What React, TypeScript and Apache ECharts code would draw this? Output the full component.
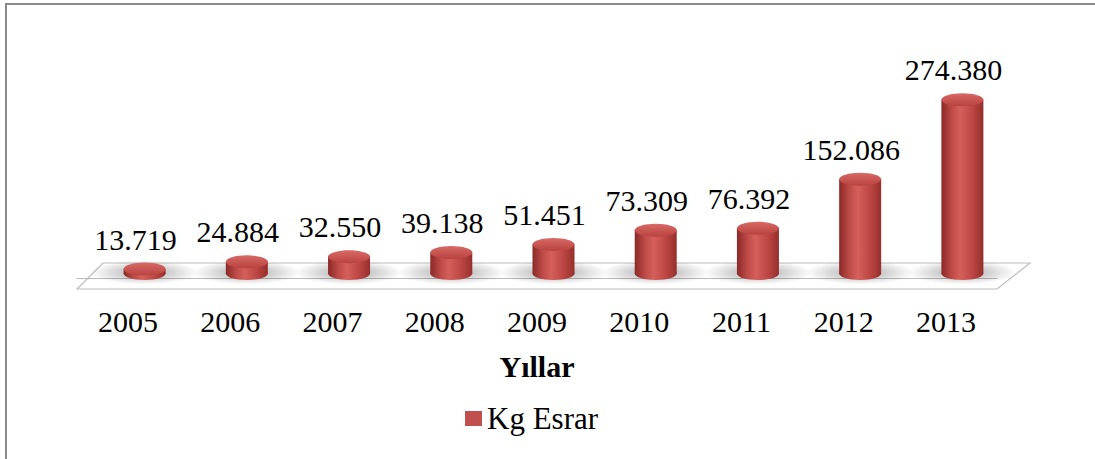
import React, { useEffect, useRef } from "react";
import * as echarts from "echarts";

const years = ["2005", "2006", "2007", "2008", "2009", "2010", "2011", "2012", "2013"];
const kgEsrar = [13719, 24884, 32550, 39138, 51451, 73309, 76392, 152086, 274380];
const seriesName = "Kg Esrar";
const axisTitle = "Yıllar";

const FONT = "Liberation Serif";

function fmt(v: number) {
  return v.toString().replace(/\B(?=(\d{3})+(?!\d))/g, ".");
}

export default function App() {
  const ref = useRef<HTMLDivElement>(null);
  useEffect(() => {
    if (!ref.current) return;
    const chart = echarts.init(ref.current, null, { renderer: "svg" });
    const bodyGrad = () =>
      new echarts.graphic.LinearGradient(0, 0, 1, 0, [
        { offset: 0, color: "#8a2927" },
        { offset: 0.25, color: "#bf4b48" },
        { offset: 0.45, color: "#d45f5b" },
        { offset: 0.75, color: "#bb4542" },
        { offset: 1, color: "#962f2c" },
      ]);
    const topGrad = () =>
      new echarts.graphic.LinearGradient(0, 0, 0, 1, [
        { offset: 0, color: "#d86a66" },
        { offset: 1, color: "#b9423f" },
      ]);
    const shadowGrad = () =>
      new echarts.graphic.RadialGradient(0.5, 0.5, 0.5, [
        { offset: 0, color: "rgba(0,0,0,0.34)" },
        { offset: 0.6, color: "rgba(0,0,0,0.14)" },
        { offset: 1, color: "rgba(0,0,0,0)" },
      ]);

    chart.setOption({
      animation: false,
      backgroundColor: "#ffffff",
      textStyle: { fontFamily: FONT },
      grid: { left: 77, right: 98, top: 83, bottom: 181, containLabel: false },
      xAxis: {
        type: "category",
        data: years,
        offset: 11,
        axisLine: { lineStyle: { color: "#bababa", width: 1 } },
        axisTick: { length: 7, lineStyle: { color: "#a0a0a0" } },
        axisLabel: { fontFamily: FONT, fontSize: 30, color: "#000", margin: 17 },
        name: axisTitle,
        nameLocation: "middle",
        nameGap: 62,
        nameTextStyle: { fontFamily: FONT, fontSize: 30, fontWeight: "bold", color: "#000" },
      },
      yAxis: { type: "value", min: 0, max: 300000, show: false },
      legend: {
        data: [{ name: seriesName, icon: "rect" }],
        left: 460,
        top: 398,
        itemWidth: 17,
        itemHeight: 15,
        itemGap: 4,
        textStyle: { fontFamily: FONT, fontSize: 31, color: "#000" },
      },
      graphic: [
        {
          type: "rect",
          z: -10,
          shape: { x: 6, y: 4, width: 1200, height: 600 },
          style: { fill: "none", stroke: "#8a8a8a", lineWidth: 2 },
          silent: true,
        },
        {
          type: "polygon",
          z: -5,
          shape: { points: [[77, 289], [997, 289], [1030, 263], [103, 263]] },
          style: { fill: "#ffffff", stroke: "#bdbdbd", lineWidth: 1.2 },
          silent: true,
        },
      ],
      series: [
        {
          type: "custom",
          name: seriesName,
          itemStyle: { color: "#c0504d" },
          data: kgEsrar.map((v, i) => [i, v]),
          renderItem: (params: any, api: any) => {
            const i = api.value(0);
            const v = api.value(1);
            const top = api.coord([i, v]);
            const base = api.coord([i, 0]);
            const cx = top[0] + 16.5;
            const yTop = top[1];
            const yBase = base[1] - 4.5;
            const rx = 21;
            const ry = 6.5;
            return {
              type: "group",
              children: [
                {
                  type: "ellipse",
                  shape: { cx: cx, cy: yBase - 1, rx: 54, ry: 12 },
                  style: { fill: shadowGrad() },
                },
                {
                  type: "ellipse",
                  shape: { cx, cy: yBase, rx, ry },
                  style: { fill: bodyGrad() },
                },
                {
                  type: "rect",
                  shape: { x: cx - rx, y: yTop, width: rx * 2, height: Math.max(0, yBase - yTop) },
                  style: { fill: bodyGrad() },
                },
                {
                  type: "ellipse",
                  shape: { cx, cy: yTop, rx, ry },
                  style: { fill: topGrad() },
                },
                {
                  type: "text",
                  style: {
                    text: fmt(v),
                    x: cx - 9,
                    y: yTop - 30,
                    align: "center",
                    verticalAlign: "middle",
                    fontFamily: FONT,
                    fontSize: 30,
                    fill: "#000",
                  },
                },
              ],
            };
          },
        },
      ],
    });
    return () => chart.dispose();
  }, []);
  return (
    <div
      ref={ref}
      style={{ position: "fixed", left: 0, top: 0, width: 1095, height: 459, background: "#fff" }}
    />
  );
}
